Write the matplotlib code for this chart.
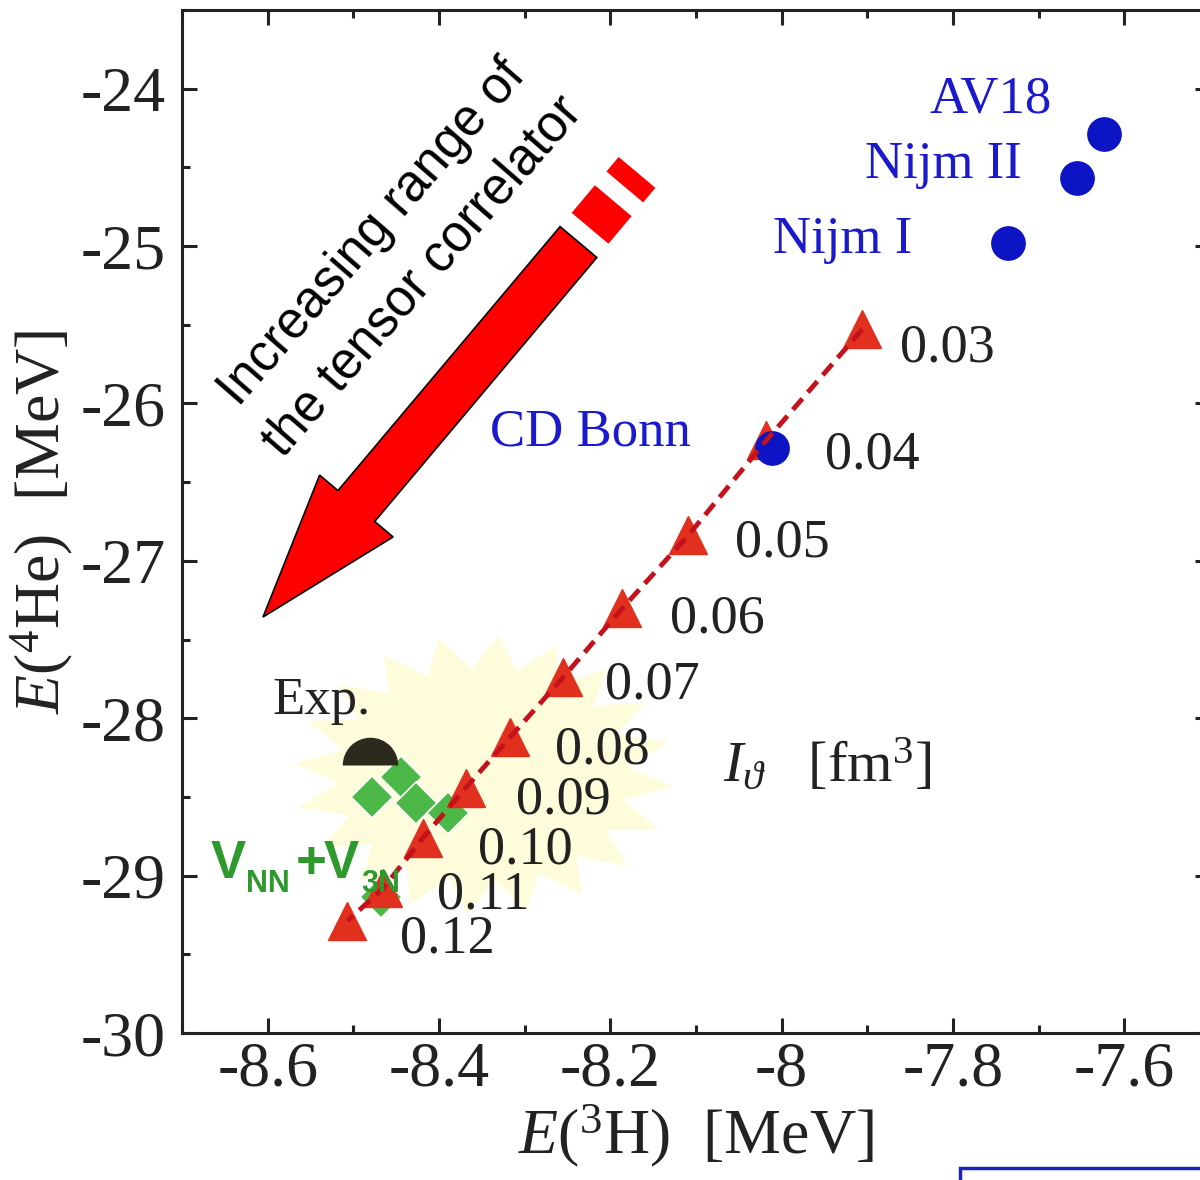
import numpy as np
import matplotlib
matplotlib.use("Agg")
import matplotlib.pyplot as plt
from matplotlib.patches import Polygon, Rectangle
from matplotlib.ticker import MultipleLocator

plt.rcParams["font.family"] = "Liberation Serif"
plt.rcParams["mathtext.fontset"] = "custom"
plt.rcParams["mathtext.rm"] = "Liberation Serif"
plt.rcParams["mathtext.it"] = "Liberation Serif:italic"
plt.rcParams["mathtext.bf"] = "Liberation Serif:bold:italic"
plt.rcParams["axes.unicode_minus"] = False

# tensor-correlator range I_theta [fm^3] and the resulting energies
i_theta = ["0.03", "0.04", "0.05", "0.06", "0.07", "0.08", "0.09", "0.10", "0.11", "0.12"]
e3h_tnn = [-7.906, -8.018, -8.109, -8.186, -8.255, -8.317, -8.369, -8.419, -8.465, -8.507]
e4he_tnn = [-25.53, -26.235, -26.838, -27.302, -27.74, -28.121, -28.444, -28.762, -29.079, -29.289]

# bare NN potentials
bare_names = ["AV18", "Nijm II", "Nijm I", "CD Bonn"]
e3h_bare = [-7.624, -7.655, -7.736, -8.011]
e4he_bare = [-24.29, -24.57, -24.98, -26.28]

# NN + 3N results
e3h_3n = [-8.478, -8.444, -8.427, -8.389, -8.468]
e4he_3n = [-28.50, -28.373, -28.541, -28.605, -29.135]

# experiment
e3h_exp = [-8.48]
e4he_exp = [-28.30]

W, H = 1200, 1180
fig = plt.figure(figsize=(W / 100, H / 100), dpi=100)
ax = fig.add_axes([182 / W, 1 - 1033 / H, (1210 - 182) / W, (1033 - 10) / H])
ax.set_xlim(-8.7, -7.5)
ax.set_ylim(-30, -23.5)


def fig_xy(pts):
    # pixel coords (y down) -> figure fraction
    pts = np.asarray(pts, dtype=float)
    return np.column_stack([pts[:, 0] / W, 1 - pts[:, 1] / H])


# pale yellow starburst behind the 3N points
cx, cy = 483, 775
nsp = 20
ang = np.linspace(0, 2 * np.pi, 2 * nsp + 1)[:-1] + 0.08
rad = np.where(np.arange(2 * nsp) % 2 == 0, 1.0, 0.76)
star = np.column_stack([cx + 190 * rad * np.cos(ang), cy + 140 * rad * np.sin(ang)])
ax.add_patch(Polygon(fig_xy(star), closed=True, transform=fig.transFigure,
                     facecolor="#fffcdc", edgecolor="none", zorder=1, clip_on=False))

# data
ax.plot(e3h_3n, e4he_3n, ls="none", marker="D", ms=21, mfc="#4cb848",
        mec="white", mew=1.2, zorder=2)
ax.plot(e3h_tnn, e4he_tnn, ls="none", marker="^", ms=28, color="#e2301e", zorder=3)
ax.plot(e3h_tnn, e4he_tnn, ls=(0, (3.0, 1.7)), lw=3.5, color="#c4121c", zorder=4)
ax.plot(e3h_bare, e4he_bare, ls="none", marker="o", ms=24, color="#0c14c4", zorder=3)
ax.plot(e3h_exp, e4he_exp, ls="none", marker="o", ms=40, fillstyle="top",
        mfc="#2b2a1c", markerfacecoloralt="none", mew=0, zorder=4)

# labels
blue = "#1a1acc"
name_pos = [(-7.827, -24.152), (-7.903, -24.565), (-8.010, -25.041), (-8.340, -26.267)]
for nm, (tx, ty) in zip(bare_names, name_pos):
    ax.text(tx, ty, nm, color=blue, fontsize=38, ha="left", va="baseline", zorder=5)

offs = [(38, 32), (59, 28), (47, 21), (48, 24), (42, 21), (45, 26), (50, 25),
        (55, 25), (54, 20), (53, 31)]
for lab, x, y, (dx, dy) in zip(i_theta, e3h_tnn, e4he_tnn, offs):
    ax.annotate(lab, (x, y), xytext=(dx / 1.389, -dy / 1.389), textcoords="offset points",
                fontsize=39, color="#222222", ha="left", va="baseline", zorder=5)

ax.text(-8.594, -27.975, "Exp.", fontsize=38, color="#222222", ha="left", va="baseline", zorder=5)
ax.text(-8.069, -28.406, r"$I_\vartheta$   [fm$^3$]", fontsize=42, color="#222222",
        ha="left", va="baseline", zorder=5)

# V_NN + V_3N, built piece by piece (pixel offsets from the anchor)
green = "#2e9a2e"
pieces = [("V", 0, 0, 38), ("NN", 35, 14, 22), ("+", 85, 0, 38), ("V", 113, 0, 38), ("3N", 150, 14, 22)]
for s, dx, dy, fs in pieces:
    ax.annotate(s, (-8.666, -29.016), xytext=(dx / 1.389, -dy / 1.389), textcoords="offset points",
                family="Liberation Sans", fontweight="bold", fontsize=fs, color=green,
                ha="left", va="baseline", zorder=6)

# big red arrow
tip = np.array([263.0, 617.0])
u = np.array([315.5, -375.0])
u /= np.linalg.norm(u)
n = np.array([-u[1], u[0]])


def pt(s, w):
    return tip + s * u + w * n


arrow = [pt(0, 0), pt(145, -48), pt(145, -24), pt(490, -24), pt(490, 24), pt(145, 24), pt(145, 48)]
ax.add_patch(Polygon(fig_xy(arrow), closed=True, transform=fig.transFigure,
                     facecolor="#ff0000", edgecolor="black", lw=1.2, zorder=5, clip_on=False))
for s0, s1 in [(508, 544), (562, 581)]:
    seg = [pt(s0, -24), pt(s1, -24), pt(s1, 24), pt(s0, 24)]
    ax.add_patch(Polygon(fig_xy(seg), closed=True, transform=fig.transFigure,
                         facecolor="#ff0000", edgecolor="none", zorder=5, clip_on=False))

ax.text(398 / W, 1 - 255 / H, "Increasing range of\nthe tensor correlator",
        transform=fig.transFigure, rotation=49, rotation_mode="anchor",
        ha="center", va="center", multialignment="center", linespacing=1.45,
        family="Liberation Sans", fontsize=37, color="black", zorder=6)

# axes styling
ax.xaxis.set_major_locator(MultipleLocator(0.2))
ax.xaxis.set_minor_locator(MultipleLocator(0.1))
ax.yaxis.set_major_locator(MultipleLocator(1))
ax.yaxis.set_minor_locator(MultipleLocator(0.5))
ax.set_xticks([-8.6, -8.4, -8.2, -8.0, -7.8, -7.6])
ax.set_xticklabels(["-8.6", "-8.4", "-8.2", "-8", "-7.8", "-7.6"])
ax.tick_params(which="both", direction="in", top=True, right=True, width=2.2,
               labelsize=46, colors="#222222")
ax.tick_params(which="major", length=11)
ax.tick_params(which="minor", length=6)
ax.tick_params(axis="x", pad=6)
ax.tick_params(axis="y", pad=12)
for sp in ax.spines.values():
    sp.set_linewidth(2.2)
    sp.set_color("#222222")

ax.set_xlabel(r"$E$($^3$H)  [MeV]", fontsize=46, color="#222222", labelpad=2)
ax.set_ylabel(r"$E$($^4$He)  [MeV]", fontsize=46, color="#222222", labelpad=4)

# blue frame peeking in at the bottom right
fig.patches.append(Rectangle((960 / W, -0.05), 0.3, 0.05 + 1 - 1168 / H,
                             transform=fig.transFigure, fill=False,
                             edgecolor="#2020c0", lw=2.5, figure=fig))

fig.savefig("out.png", dpi=100)
